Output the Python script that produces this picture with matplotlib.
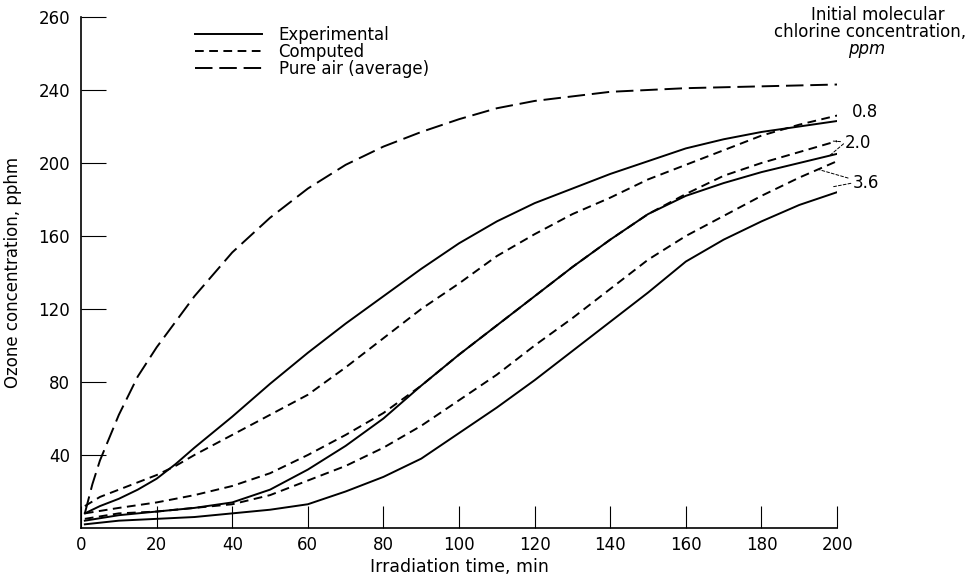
import numpy as np
import matplotlib.pyplot as plt

plt.rcParams['font.family'] = ['DejaVu Sans']

# irradiation time, min
t_air = [1, 3, 5, 10, 15, 20, 30, 40, 50, 60, 70, 80, 90, 100, 110, 120, 140, 160, 180, 200]
air = [8, 24, 37, 62, 83, 99, 127, 151, 170, 186, 199, 209, 217, 224, 230, 234, 239, 241, 242, 243]

t_08 = [1, 5, 10, 15, 20, 25, 30, 40, 50, 60, 70, 80, 90, 100, 110, 120, 130, 140, 150, 160, 170, 180, 190, 200]
exp_08 = [8, 12, 16, 21, 27, 35, 44, 61, 79, 96, 112, 127, 142, 156, 168, 178, 186, 194, 201, 208, 213, 217, 220, 223]
comp_08 = [12, 17, 21, 25, 29, 34, 40, 51, 62, 73, 88, 104, 120, 134, 149, 161, 172, 181, 191, 199, 207, 215, 221, 226]

t_hi = [1, 10, 20, 30, 40, 50, 60, 70, 80, 90, 100, 110, 120, 130, 140, 150, 160, 170, 180, 190, 200]
exp_20 = [4, 7, 9, 11, 14, 21, 32, 45, 60, 78, 95, 111, 127, 143, 158, 172, 182, 189, 195, 200, 205]
comp_20 = [8, 11, 14, 18, 23, 30, 40, 51, 63, 78, 95, 111, 127, 143, 158, 172, 183, 193, 200, 206, 212]
exp_36 = [2, 4, 5, 6, 8, 10, 13, 20, 28, 38, 52, 66, 81, 97, 113, 129, 146, 158, 168, 177, 184]
comp_36 = [5, 8, 9, 11, 13, 18, 26, 34, 44, 56, 70, 84, 100, 115, 131, 147, 160, 171, 182, 192, 201]

x_ticks = [0, 20, 40, 60, 80, 100, 120, 140, 160, 180, 200]
y_ticks = [40, 80, 120, 160, 200, 240, 280]
y_labels = ['40', '80', '120', '160', '200', '240', '260']

fig = plt.figure(figsize=(9.73, 5.8), dpi=100)
ax = fig.add_axes([0.0833, 0.0897, 0.777, 0.881])

lw = 1.4
solid = dict(color='black', lw=lw)
short = dict(color='black', lw=lw, ls=(0, (4.5, 2.8)))
long_ = dict(color='black', lw=lw, ls=(0, (9, 3.5)))

ax.plot(t_08, exp_08, label='Experimental', **solid)
ax.plot(t_08, comp_08, label='Computed', **short)
ax.plot(t_air, air, label='Pure air (average)', **long_)
ax.plot(t_hi, exp_20, **solid)
ax.plot(t_hi, comp_20, **short)
ax.plot(t_hi, exp_36, **solid)
ax.plot(t_hi, comp_36, **short)

ax.set_xlim(0, 200)
ax.set_ylim(0, 280)
ax.set_xticks(x_ticks)
ax.set_yticks(y_ticks)
ax.set_yticklabels(y_labels)
ax.tick_params(axis='x', direction='in', length=16, width=0.8, pad=6, labelsize=12)
ax.tick_params(axis='y', direction='in', length=18, width=0.8, pad=8, labelsize=12)

for s in ['top', 'right']:
    ax.spines[s].set_visible(False)
for s in ['left', 'bottom']:
    ax.spines[s].set_linewidth(1.2)

ax.set_xlabel('Irradiation time, min', fontsize=12.5, labelpad=3)
ax.set_ylabel('Ozone concentration, pphm', fontsize=12)
ax.yaxis.set_label_coords(-0.078, 0.5)

ax.legend(loc='upper left', bbox_to_anchor=(0.151, 0.982), frameon=False,
          fontsize=12, handlelength=4.0, handletextpad=1.0, labelspacing=-0.08,
          borderaxespad=0, borderpad=0)

# labels for the chlorine concentrations
fig.text(0.902, 0.974, 'Initial molecular', ha='center', va='center', fontsize=12)
fig.text(0.894, 0.945, 'chlorine concentration,', ha='center', va='center', fontsize=12)
fig.text(0.891, 0.916, 'ppm', ha='center', va='center', fontsize=12, style='italic')

ax.text(204, 228, '0.8', ha='left', va='center', fontsize=12, clip_on=False)

lead = dict(arrowstyle='-', color='black', lw=0.7, ls=(0, (3, 2)), shrinkA=1, shrinkB=0)
ax.annotate('2.0', xy=(t_hi[-1] - 1, comp_20[-1]), xytext=(202, 211), va='center',
            fontsize=12, arrowprops=lead, annotation_clip=False)
ax.annotate('', xy=(t_hi[-1] - 2, exp_20[-1] - 1), xytext=(202, 211),
            arrowprops=lead, annotation_clip=False)
ax.annotate('3.6', xy=(195, np.interp(195, t_hi, comp_36)), xytext=(204, 189), va='center',
            fontsize=12, arrowprops=lead, annotation_clip=False)
ax.annotate('', xy=(t_hi[-1] - 1, exp_36[-1] + 3), xytext=(204, 189),
            arrowprops=lead, annotation_clip=False)

fig.savefig('out.png', dpi=100)
